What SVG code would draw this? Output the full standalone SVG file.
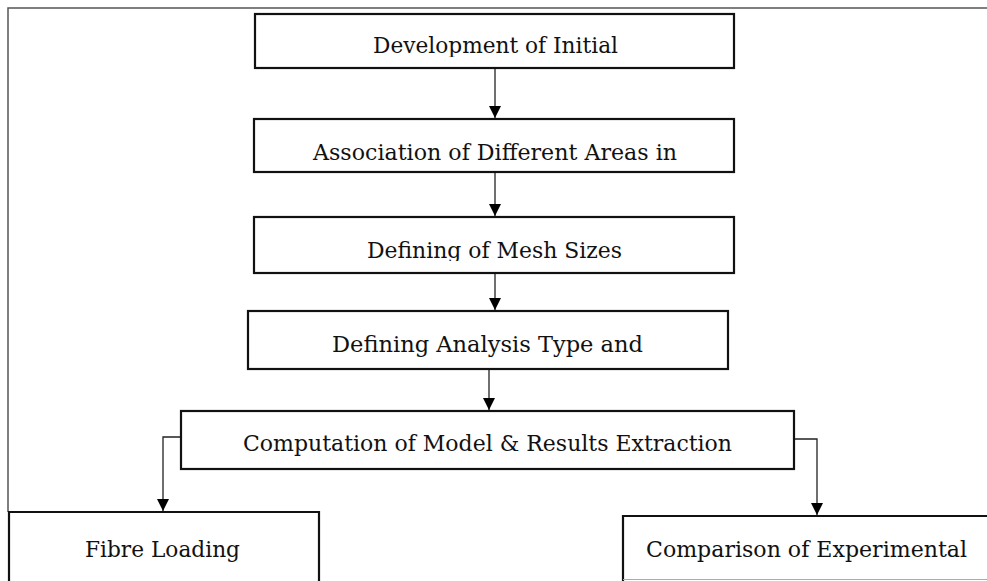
<svg xmlns="http://www.w3.org/2000/svg" width="987" height="581" viewBox="0 0 987 581">
<style>
.box{fill:#fff;stroke:#111;stroke-width:2.2}
.edge{fill:none;stroke:#111;stroke-width:2.2}
.frame{fill:none;stroke:#555;stroke-width:1.5}
.conn{fill:none;stroke:#222;stroke-width:1.3}
.lbl{font-family:"DejaVu Serif","Liberation Serif",serif;font-size:22px;fill:#111;text-anchor:middle}
</style>
<defs>
<marker id="arr" viewBox="0 0 12 12" refX="12" refY="6" markerWidth="12" markerHeight="12" markerUnits="userSpaceOnUse" orient="auto">
<path d="M0,0 L12,6 L0,12 Z" fill="#000"/>
</marker>
<clipPath id="c1"><rect x="255" y="14" width="479" height="43"/></clipPath>
<clipPath id="c3"><rect x="254" y="217" width="480" height="44"/></clipPath>
</defs>
<rect width="987" height="581" fill="#fff"/>
<path class="frame" d="M8,512 V8 H987"/>
<g id="connectors">
<path class="conn" d="M495,68 V118" marker-end="url(#arr)"/>
<path class="conn" d="M495,172 V216" marker-end="url(#arr)"/>
<path class="conn" d="M495,273 V310" marker-end="url(#arr)"/>
<path class="conn" d="M489,369 V410" marker-end="url(#arr)"/>
<path class="conn" d="M181,437 H163 V511" marker-end="url(#arr)"/>
<path class="conn" d="M794,439 H817 V515" marker-end="url(#arr)"/>
</g>
<g id="n1">
<rect class="box" x="255" y="14" width="479" height="54"/>
<text class="lbl" x="495.5" y="53" clip-path="url(#c1)" textLength="245" lengthAdjust="spacingAndGlyphs">Development of Initial</text>
</g>
<g id="n2">
<rect class="box" x="254" y="119" width="480" height="53"/>
<text class="lbl" x="495" y="160" textLength="364" lengthAdjust="spacingAndGlyphs">Association of Different Areas in</text>
</g>
<g id="n3">
<rect class="box" x="254" y="217" width="480" height="56"/>
<text class="lbl" x="494.5" y="258" clip-path="url(#c3)" textLength="255" lengthAdjust="spacingAndGlyphs">Defining of Mesh Sizes</text>
</g>
<g id="n4">
<rect class="box" x="248" y="311" width="480" height="58"/>
<text class="lbl" x="487.5" y="352" textLength="311" lengthAdjust="spacingAndGlyphs">Defining Analysis Type and</text>
</g>
<g id="n5">
<rect class="box" x="181" y="411" width="613" height="58"/>
<text class="lbl" x="487.5" y="451" textLength="489" lengthAdjust="spacingAndGlyphs">Computation of Model &amp; Results Extraction</text>
</g>
<g id="n6">
<path class="edge" d="M9,581 V512 H319 V581"/>
<text class="lbl" x="162.5" y="557" textLength="155" lengthAdjust="spacingAndGlyphs">Fibre Loading</text>
</g>
<g id="n7">
<path class="edge" d="M623,581 V516 H987"/>
<path d="M623,579.5 H987" stroke="#aaa" stroke-width="1"/>
<text class="lbl" x="806.5" y="557" textLength="321" lengthAdjust="spacingAndGlyphs">Comparison of Experimental</text>
</g>
</svg>
